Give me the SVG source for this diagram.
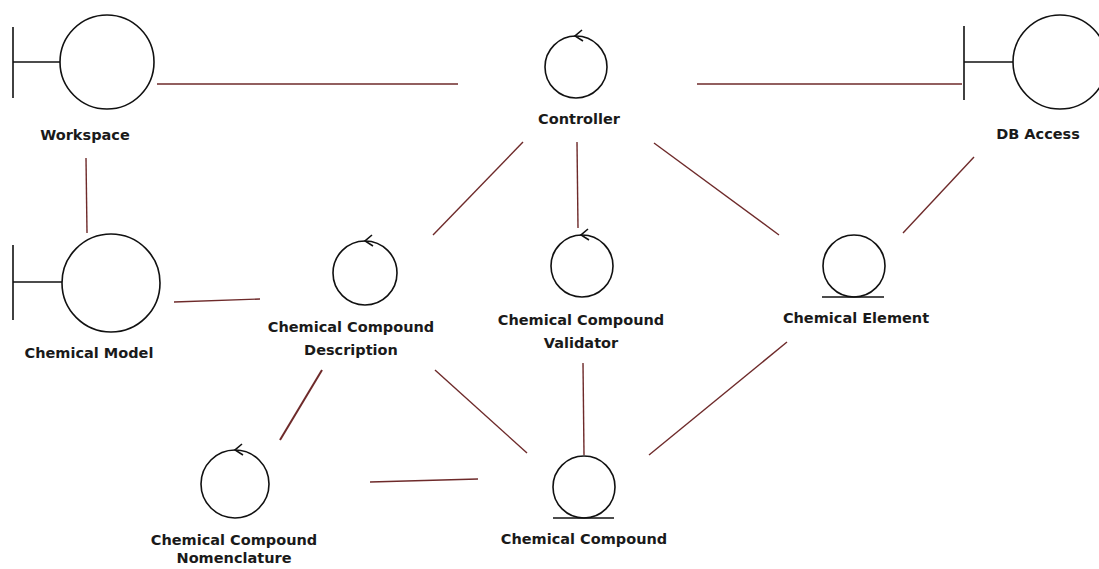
<svg xmlns="http://www.w3.org/2000/svg" width="1099" height="569" viewBox="0 0 1099 569">
  <style>
    .shape { fill: none; stroke: #111; stroke-width: 1.6; }
    .link { fill: none; stroke: #6e2a2a; stroke-width: 1.4; }
    .label { font-family: "DejaVu Sans", "Liberation Sans", sans-serif; font-weight: bold; font-size: 14.5px; fill: #1a1a1a; text-anchor: middle; }
  </style>
  <defs>
    <!-- control: circle with a small arrowhead at the top -->
    <path id="ctlArrow" d="M 7 -6 L 0 0 L 8 5" class="shape"/>
  </defs>
  <rect width="1099" height="569" fill="#ffffff"/>

  <g id="connectors">
    <line class="link" x1="157" y1="84" x2="458" y2="84"/>
    <line class="link" x1="697" y1="84" x2="962" y2="84"/>
    <line class="link" x1="86" y1="158" x2="87" y2="233"/>
    <line class="link" x1="174" y1="302" x2="260" y2="299"/>
    <line class="link" x1="523" y1="142" x2="433" y2="235"/>
    <line class="link" x1="577" y1="142" x2="578" y2="228"/>
    <line class="link" x1="654" y1="143" x2="779" y2="235"/>
    <line class="link" x1="974" y1="157" x2="903" y2="233"/>
    <line class="link" x1="322" y1="370" x2="280" y2="440" style="stroke-width:2"/>
    <line class="link" x1="435" y1="370" x2="527" y2="453"/>
    <line class="link" x1="583" y1="363" x2="584" y2="455"/>
    <line class="link" x1="787" y1="342" x2="649" y2="455"/>
    <line class="link" x1="370" y1="482" x2="478" y2="479"/>
  </g>

  <g id="workspace">
    <line class="shape" x1="13" y1="27" x2="13" y2="98"/>
    <line class="shape" x1="13" y1="62" x2="60" y2="62"/>
    <circle class="shape" cx="107" cy="62" r="47"/>
    <text class="label" x="85" y="140">Workspace</text>
  </g>

  <g id="controller">
    <circle class="shape" cx="576" cy="67" r="31"/>
    <use href="#ctlArrow" x="575" y="36"/>
    <text class="label" x="579" y="124">Controller</text>
  </g>

  <g id="db-access">
    <line class="shape" x1="964" y1="26" x2="964" y2="100"/>
    <line class="shape" x1="964" y1="62" x2="1013" y2="62"/>
    <circle class="shape" cx="1060" cy="62" r="47"/>
    <text class="label" x="1038" y="139">DB Access</text>
  </g>

  <g id="chemical-model">
    <line class="shape" x1="13" y1="245" x2="13" y2="320"/>
    <line class="shape" x1="13" y1="282" x2="62" y2="282"/>
    <circle class="shape" cx="111" cy="283" r="49"/>
    <text class="label" x="89" y="358">Chemical Model</text>
  </g>

  <g id="compound-description">
    <circle class="shape" cx="365" cy="273" r="32"/>
    <use href="#ctlArrow" x="365" y="241"/>
    <text class="label" x="351" y="332">Chemical Compound</text>
    <text class="label" x="351" y="355">Description</text>
  </g>

  <g id="compound-validator">
    <circle class="shape" cx="582" cy="266" r="31"/>
    <use href="#ctlArrow" x="581" y="235"/>
    <text class="label" x="581" y="325">Chemical Compound</text>
    <text class="label" x="581" y="348">Validator</text>
  </g>

  <g id="chemical-element">
    <circle class="shape" cx="854" cy="266" r="31"/>
    <line class="shape" x1="822" y1="297" x2="884" y2="297"/>
    <text class="label" x="856" y="323">Chemical Element</text>
  </g>

  <g id="compound-nomenclature">
    <circle class="shape" cx="235" cy="484" r="34"/>
    <use href="#ctlArrow" x="235" y="450"/>
    <text class="label" x="234" y="545">Chemical Compound</text>
    <text class="label" x="234" y="563">Nomenclature</text>
  </g>

  <g id="chemical-compound">
    <circle class="shape" cx="584" cy="487" r="31"/>
    <line class="shape" x1="553" y1="518" x2="614" y2="518"/>
    <text class="label" x="584" y="544">Chemical Compound</text>
  </g>
</svg>
